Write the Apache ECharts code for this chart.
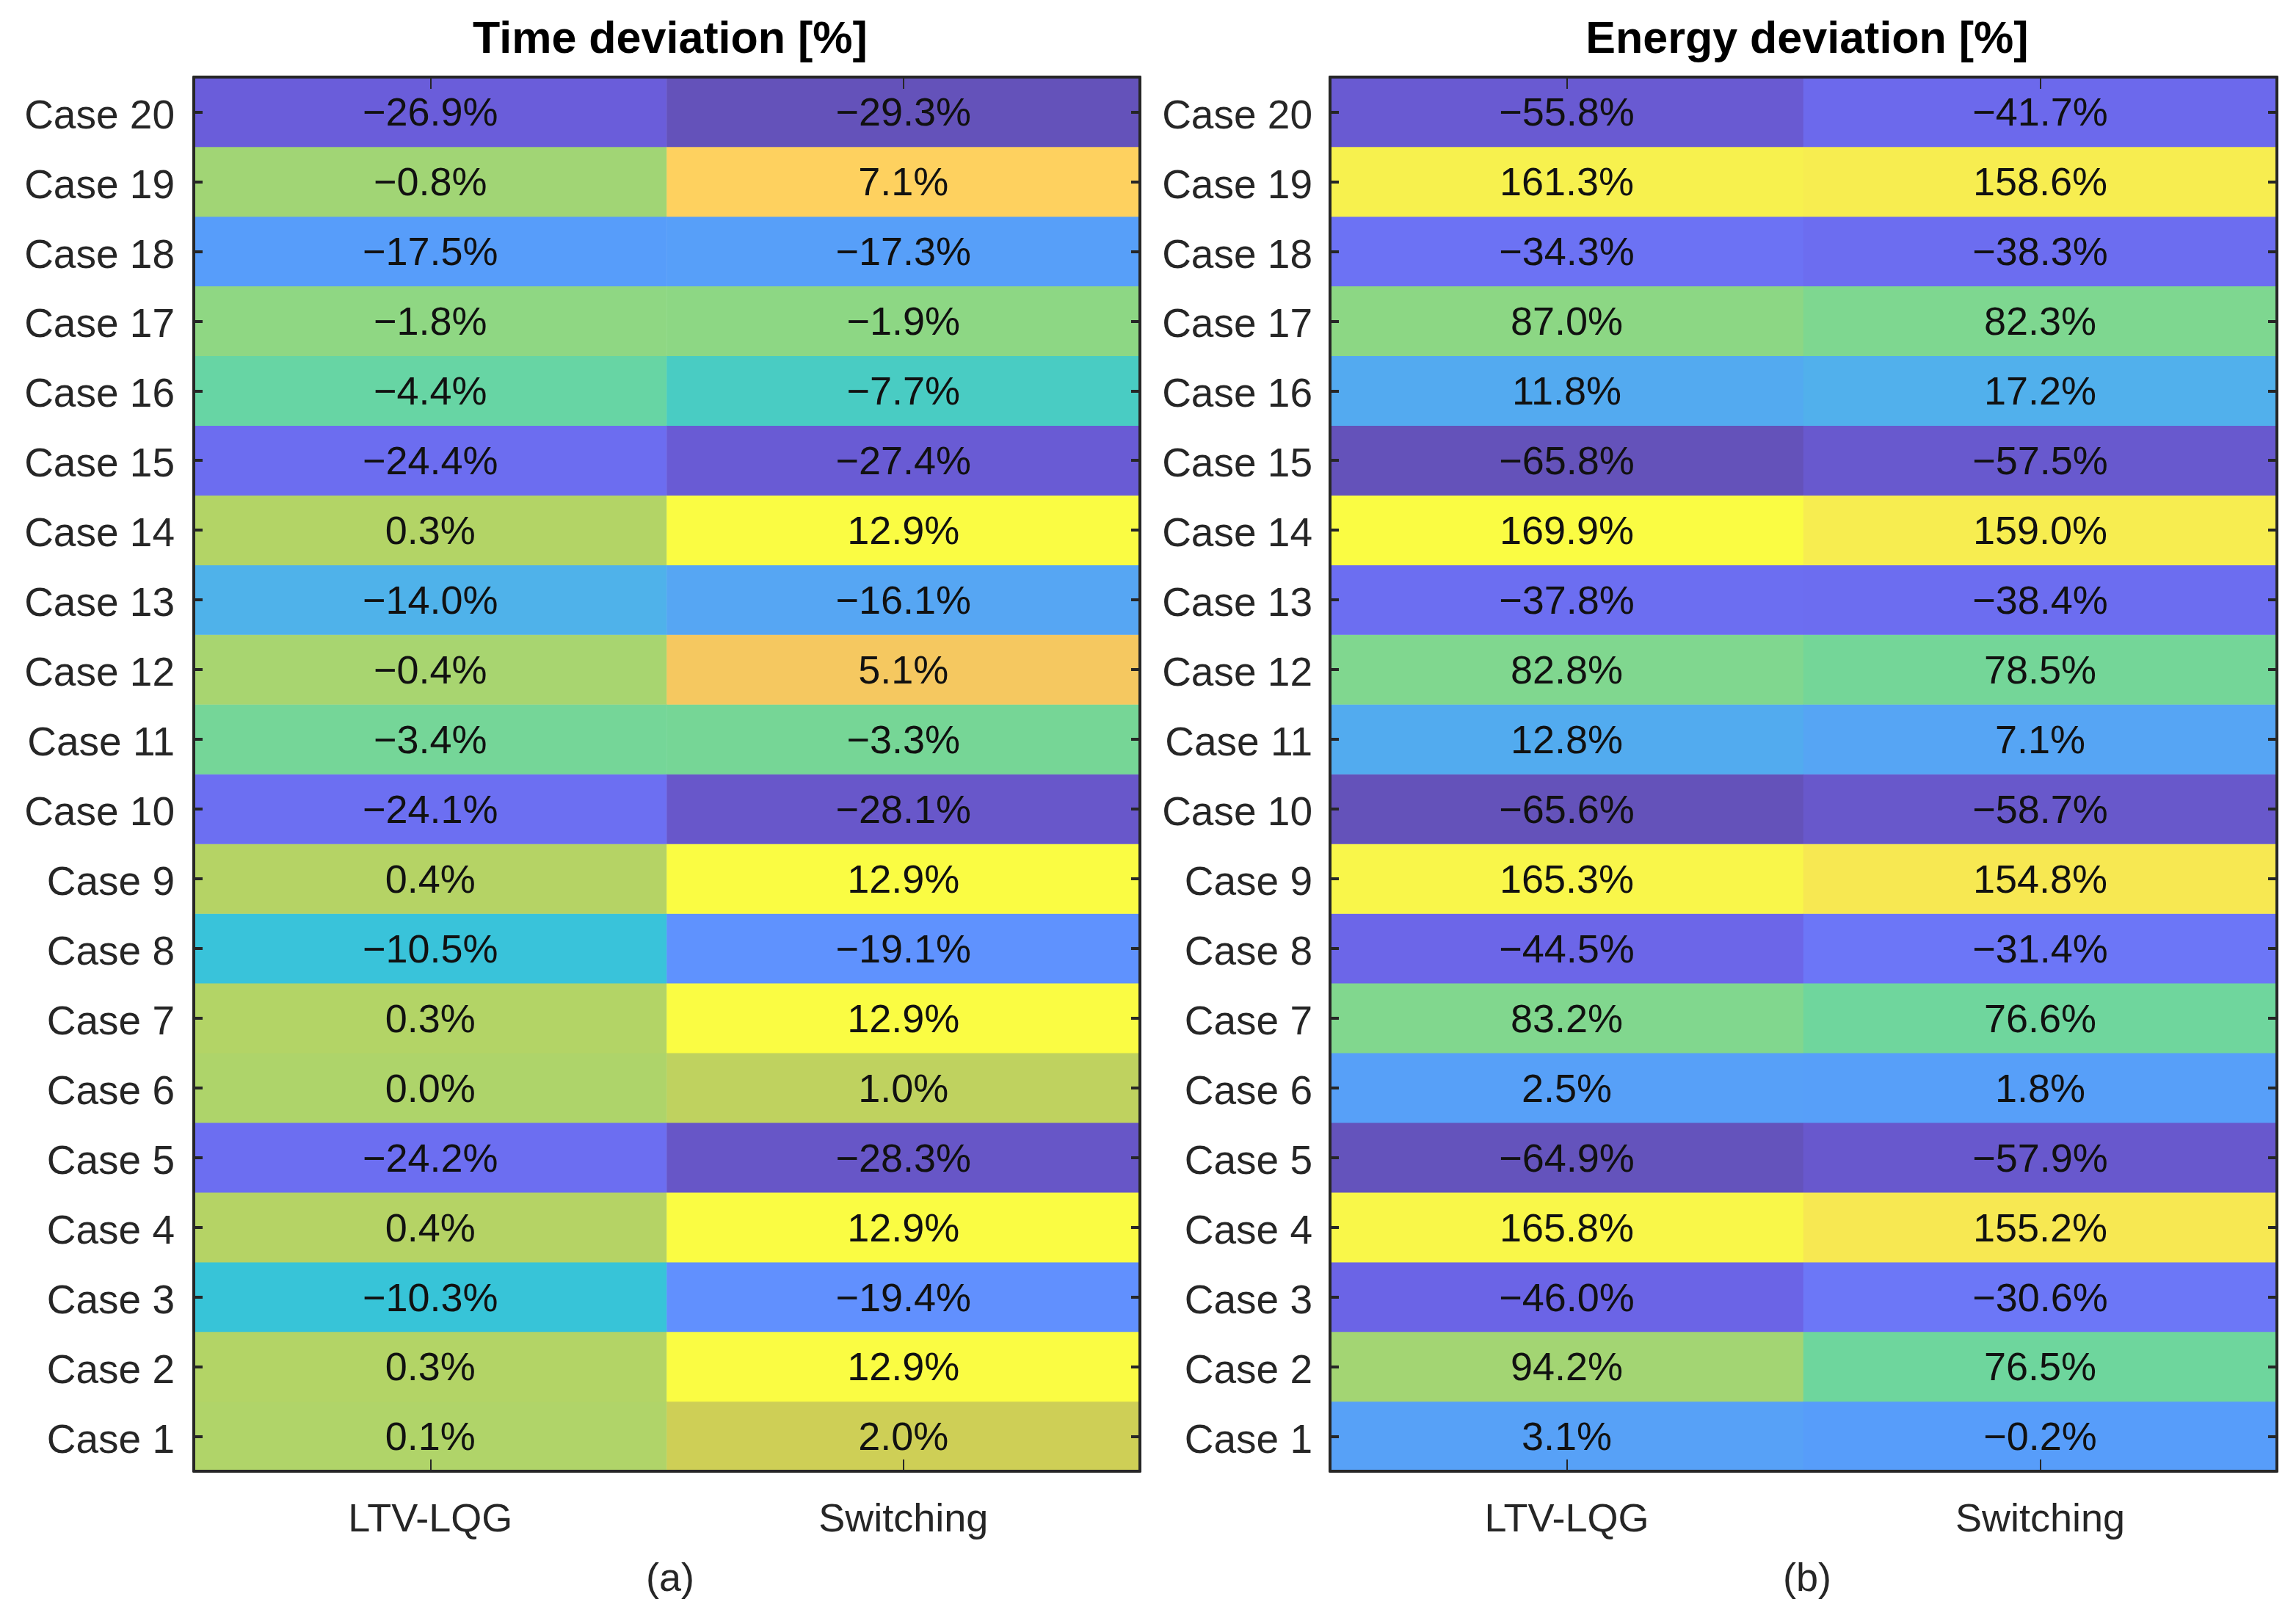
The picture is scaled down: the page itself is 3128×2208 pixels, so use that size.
<!DOCTYPE html>
<html>
<head>
<meta charset="utf-8">
<script src="https://cdn.jsdelivr.net/npm/echarts@6/dist/echarts.min.js"></script>
<style>
html,body{margin:0;padding:0;background:#fff;}
#chart{width:3128px;height:2208px;}
</style>
</head>
<body>
<div id="chart"></div>
<script>
// ---- data ----
const cases = ['Case 1','Case 2','Case 3','Case 4','Case 5','Case 6','Case 7','Case 8','Case 9','Case 10',
               'Case 11','Case 12','Case 13','Case 14','Case 15','Case 16','Case 17','Case 18','Case 19','Case 20'];
const methods = ['LTV-LQG', 'Switching'];
const timeLTV = [0.1, 0.3, -10.3, 0.4, -24.2, 0.0, 0.3, -10.5, 0.4, -24.1, -3.4, -0.4, -14.0, 0.3, -24.4, -4.4, -1.8, -17.5, -0.8, -26.9];
const timeSwitching = [2.0, 12.9, -19.4, 12.9, -28.3, 1.0, 12.9, -19.1, 12.9, -28.1, -3.3, 5.1, -16.1, 12.9, -27.4, -7.7, -1.9, -17.3, 7.1, -29.3];
const energyLTV = [3.1, 94.2, -46.0, 165.8, -64.9, 2.5, 83.2, -44.5, 165.3, -65.6, 12.8, 82.8, -37.8, 169.9, -65.8, 11.8, 87.0, -34.3, 161.3, -55.8];
const energySwitching = [-0.2, 76.5, -30.6, 155.2, -57.9, 1.8, 76.6, -31.4, 154.8, -58.7, 7.1, 78.5, -38.4, 159.0, -57.5, 17.2, 82.3, -38.3, 158.6, -41.7];
const titleTime = 'Time deviation [%]';
const titleEnergy = 'Energy deviation [%]';

// ---- parula colormap (style), blended with white ----
const parula = [
[0.2422,0.1504,0.6603],[0.2504,0.1650,0.7076],[0.2578,0.1818,0.7511],[0.2647,0.1978,0.7952],
[0.2706,0.2147,0.8364],[0.2751,0.2342,0.8710],[0.2783,0.2559,0.8991],[0.2803,0.2782,0.9221],
[0.2813,0.3006,0.9414],[0.2810,0.3228,0.9579],[0.2795,0.3447,0.9717],[0.2760,0.3667,0.9829],
[0.2699,0.3892,0.9906],[0.2602,0.4123,0.9952],[0.2440,0.4358,0.9988],[0.2206,0.4603,0.9973],
[0.1963,0.4847,0.9892],[0.1834,0.5074,0.9798],[0.1786,0.5289,0.9682],[0.1764,0.5499,0.9520],
[0.1687,0.5703,0.9359],[0.1540,0.5902,0.9218],[0.1460,0.6091,0.9079],[0.1380,0.6276,0.8973],
[0.1248,0.6459,0.8883],[0.1113,0.6635,0.8763],[0.0952,0.6798,0.8598],[0.0689,0.6948,0.8394],
[0.0297,0.7082,0.8163],[0.0036,0.7203,0.7917],[0.0067,0.7312,0.7660],[0.0433,0.7411,0.7394],
[0.0964,0.7500,0.7120],[0.1408,0.7584,0.6842],[0.1717,0.7670,0.6554],[0.1938,0.7758,0.6251],
[0.2161,0.7843,0.5923],[0.2470,0.7918,0.5567],[0.2906,0.7973,0.5188],[0.3406,0.8008,0.4789],
[0.3909,0.8029,0.4354],[0.4456,0.8024,0.3909],[0.5044,0.7993,0.3480],[0.5616,0.7942,0.3045],
[0.6174,0.7876,0.2612],[0.6720,0.7793,0.2227],[0.7242,0.7698,0.1910],[0.7738,0.7598,0.1646],
[0.8203,0.7498,0.1535],[0.8634,0.7406,0.1596],[0.9035,0.7330,0.1774],[0.9393,0.7288,0.2100],
[0.9728,0.7298,0.2394],[0.9956,0.7434,0.2371],[0.9970,0.7659,0.2199],[0.9952,0.7893,0.2028],
[0.9892,0.8136,0.1885],[0.9786,0.8386,0.1766],[0.9676,0.8639,0.1643],[0.9610,0.8890,0.1537],
[0.9597,0.9135,0.1423],[0.9628,0.9373,0.1265],[0.9691,0.9606,0.1064],[0.9769,0.9839,0.0805]];
const alpha = 0.8;
const palette = parula.map(c => 'rgb(' + c.map(v => Math.round(255 * (alpha * v + (1 - alpha)))).join(',') + ')');

function cells(a, b) {
  const out = [];
  a.forEach((v, i) => out.push([0, i, v]));
  b.forEach((v, i) => out.push([1, i, v]));
  return out;
}
function fmt(p) {
  const v = p.value[2];
  return (v < 0 ? '\u2212' : '') + Math.abs(v).toFixed(1) + '%';
}

const FONT = '"Liberation Sans", Arial, Helvetica, sans-serif';
const AX = '#262626';
const grids = [
  {left: 264, top: 105, width: 1289, height: 1899},
  {left: 1812, top: 105, width: 1290, height: 1899}
];

const xAxes = [], yAxes = [];
[0, 1].forEach(g => {
  xAxes.push({
    type: 'category', gridIndex: g, position: 'bottom', data: methods, z: 10,
    axisLine: {show: true, lineStyle: {color: AX, width: 4}},
    axisTick: {show: true, inside: true, alignWithLabel: true, length: 16, lineStyle: {color: AX, width: 2}},
    axisLabel: {fontFamily: FONT, fontSize: 54, color: AX, margin: 40},
    splitLine: {show: false}, splitArea: {show: false}
  });
  xAxes.push({
    type: 'category', gridIndex: g, position: 'top', data: methods, z: 10,
    axisLine: {show: true, lineStyle: {color: AX, width: 4}},
    axisTick: {show: true, inside: true, alignWithLabel: true, length: 16, lineStyle: {color: AX, width: 2}},
    axisLabel: {show: false}, splitLine: {show: false}
  });
  yAxes.push({
    type: 'category', gridIndex: g, position: 'left', data: cases, z: 10,
    axisLine: {show: true, lineStyle: {color: AX, width: 4}},
    axisTick: {show: true, inside: true, alignWithLabel: true, length: 12, lineStyle: {color: AX, width: 4}},
    axisLabel: {
      margin: g === 0 ? 26 : 24,
      formatter: v => '{c|' + v + '}',
      rich: {c: {fontFamily: FONT, fontSize: 55, color: AX, padding: [14, 0, 0, 0]}}
    },
    splitLine: {show: false}, splitArea: {show: false}
  });
  yAxes.push({
    type: 'category', gridIndex: g, position: 'right', data: cases, z: 10,
    axisLine: {show: true, lineStyle: {color: AX, width: 4}},
    axisTick: {show: true, inside: true, alignWithLabel: true, length: 12, lineStyle: {color: AX, width: 4}},
    axisLabel: {show: false}, splitLine: {show: false}
  });
});

const timeData = cells(timeLTV, timeSwitching);
const energyData = cells(energyLTV, energySwitching);
const tAll = timeLTV.concat(timeSwitching), eAll = energyLTV.concat(energySwitching);

const option = {
  backgroundColor: '#fff',
  animation: false,
  title: [
    {text: titleTime, left: 908, top: 20, textAlign: 'center',
     textStyle: {fontFamily: FONT, fontSize: 61, fontWeight: 'bold', color: '#000'}},
    {text: titleEnergy, left: 2457, top: 20, textAlign: 'center',
     textStyle: {fontFamily: FONT, fontSize: 61, fontWeight: 'bold', color: '#000'}},
    {text: '(a)', left: 908, top: 2120, textAlign: 'center',
     textStyle: {fontFamily: FONT, fontSize: 54, fontWeight: 'normal', color: AX}},
    {text: '(b)', left: 2457, top: 2120, textAlign: 'center',
     textStyle: {fontFamily: FONT, fontSize: 54, fontWeight: 'normal', color: AX}}
  ],
  grid: grids,
  xAxis: xAxes,
  yAxis: yAxes,
  visualMap: [
    {type: 'continuous', show: false, seriesIndex: 0, min: Math.min(...tAll), max: Math.max(...tAll),
     inRange: {color: palette}},
    {type: 'continuous', show: false, seriesIndex: 1, min: Math.min(...eAll), max: Math.max(...eAll),
     inRange: {color: palette}}
  ],
  series: [
    {type: 'heatmap', xAxisIndex: 0, yAxisIndex: 0, data: timeData, z: 2,
     label: {show: true, formatter: fmt, fontFamily: FONT, fontSize: 54, color: '#111', offset: [0, 4]},
     emphasis: {disabled: true}},
    {type: 'heatmap', xAxisIndex: 2, yAxisIndex: 2, data: energyData, z: 2,
     label: {show: true, formatter: fmt, fontFamily: FONT, fontSize: 54, color: '#111', offset: [0, 4]},
     emphasis: {disabled: true}}
  ]
};

const chart = echarts.init(document.getElementById('chart'), null, {renderer: 'canvas'});
chart.setOption(option);
</script>
</body>
</html>
